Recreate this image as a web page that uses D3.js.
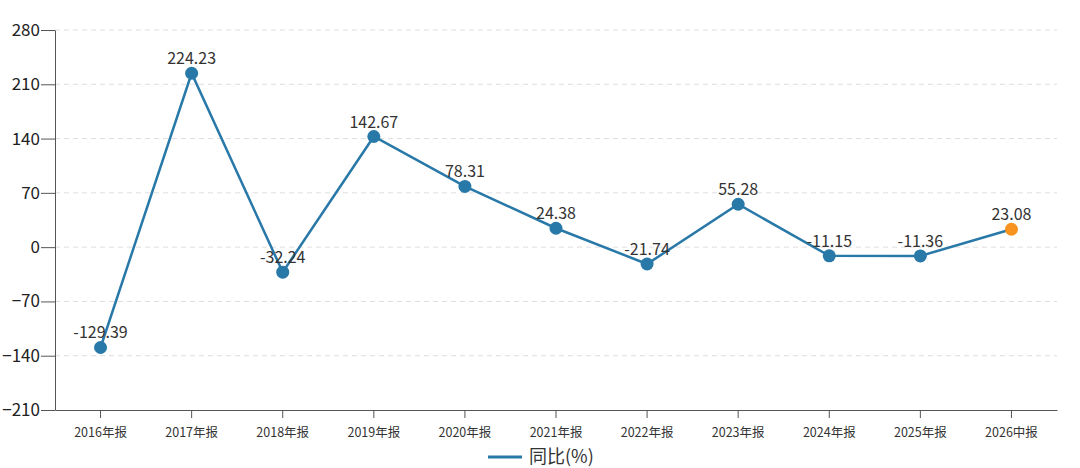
<!DOCTYPE html>
<html><head><meta charset="utf-8">
<script src="https://cdn.jsdelivr.net/npm/d3@7"></script>
<style>
body{margin:0;background:#fff;}
text{font-family:"Noto Sans CJK SC","Noto Sans",sans-serif;}
</style></head>
<body><svg id="c" width="1080" height="468"></svg>
<script>
const categories = ["2016年报","2017年报","2018年报","2019年报","2020年报","2021年报","2022年报","2023年报","2024年报","2025年报","2026中报"];
const values = [-129.39,224.23,-32.24,142.67,78.31,24.38,-21.74,55.28,-11.15,-11.36,23.08];
const yTicks = [-210,-140,-70,0,70,140,210,280];
const seriesName = "同比(%)";

(function(){
const svg = d3.select("#c");
const mLeft = 55, mRight = 1057, mTop = 30, mBottom = 410;
const x = d3.scaleBand().domain(categories).range([mLeft, mRight]);
const y = d3.scaleLinear().domain([-210, 280]).range([mBottom, mTop]);
const lineColor = "#2878a8", lastColor = "#f7931e";

// grid
svg.append("g").selectAll("line").data(yTicks.filter(t => t !== -210)).join("line")
  .attr("x1", mLeft).attr("x2", mRight)
  .attr("y1", d => y(d)).attr("y2", d => y(d))
  .attr("stroke", "#dedede").attr("stroke-dasharray", "5,4").attr("stroke-width", 1);

// y axis
const ya = svg.append("g").attr("transform", `translate(${mLeft},0)`)
  .call(d3.axisLeft(y).tickValues(yTicks).tickSize(14).tickPadding(1).tickSizeOuter(0));
ya.select(".domain").attr("stroke", "#555");
ya.selectAll(".tick line").attr("stroke", "#555");
ya.selectAll("text").attr("font-size", 17).attr("fill", "#222");

// x axis
const xa = svg.append("g").attr("transform", `translate(0,${mBottom})`)
  .call(d3.axisBottom(x).tickSize(8).tickSizeOuter(0));
xa.select(".domain").attr("stroke", "#555");
xa.selectAll(".tick line").attr("stroke", "#555");
xa.selectAll("text").attr("font-size", 12.5).attr("fill", "#333").attr("dy", "1.25em");

const cx = d => x(d) + x.bandwidth() / 2;
const pts = categories.map((c, i) => ({c, v: values[i], i}));

svg.append("path").datum(pts)
  .attr("d", d3.line().x(d => cx(d.c)).y(d => y(d.v)))
  .attr("fill", "none").attr("stroke", lineColor).attr("stroke-width", 2.5);

svg.append("g").selectAll("circle").data(pts).join("circle")
  .attr("cx", d => cx(d.c)).attr("cy", d => y(d.v)).attr("r", 6.5)
  .attr("fill", d => d.i === pts.length - 1 ? lastColor : lineColor);

svg.append("g").selectAll("text").data(pts).join("text")
  .attr("x", d => cx(d.c)).attr("y", d => y(d.v) - 9)
  .attr("text-anchor", "middle").attr("font-size", 16).attr("fill", "#333")
  .text(d => d.v.toFixed(2));

// legend
const lg = svg.append("g");
lg.append("line").attr("x1", 488).attr("x2", 522).attr("y1", 457).attr("y2", 457)
  .attr("stroke", lineColor).attr("stroke-width", 3);
lg.append("text").attr("x", 529).attr("y", 463).attr("font-size", 18).attr("fill", "#333").text(seriesName);
})();
</script></body></html>
